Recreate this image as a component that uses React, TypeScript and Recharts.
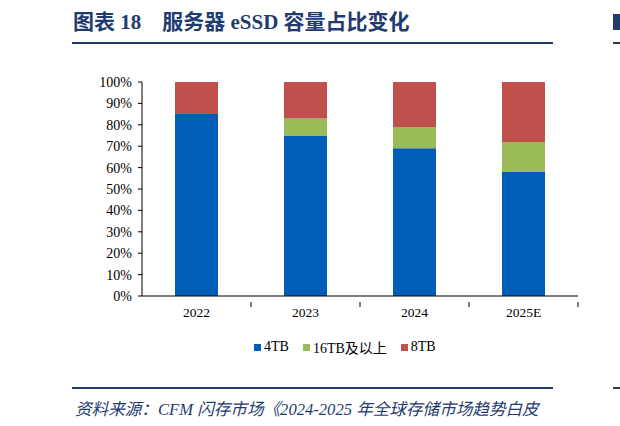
import { BarChart, Bar, XAxis, YAxis } from 'recharts'

const YEARS = ['2022', '2023', '2024', '2025E']
const SHARE_4TB = [85, 75, 69, 58]
const SHARE_16TB = [0, 8, 10, 14]
const SHARE_8TB = [15, 17, 21, 28]
const Y_TICKS = [0, 10, 20, 30, 40, 50, 60, 70, 80, 90, 100]

const SERIES = [
  { key: 'tb4', name: '4TB', color: '#005EB8' },
  { key: 'tb16', name: '16TB及以上', color: '#9BBB59' },
  { key: 'tb8', name: '8TB', color: '#C0504D' },
]

const data = YEARS.map((year, i) => ({
  year,
  tb4: SHARE_4TB[i],
  tb16: SHARE_16TB[i],
  tb8: SHARE_8TB[i],
}))

const NAVY = '#1F3B70'
const FONT = '"Times New Roman", "Liberation Serif", "Noto Sans CJK SC", serif'

const W = 620
const H = 426
const PLOT_LEFT = 142
const PLOT_RIGHT = 42
const BAND = (W - PLOT_LEFT - PLOT_RIGHT) / YEARS.length

// eslint-disable-next-line @typescript-eslint/no-explicit-any
function XTick(props: any) {
  const { x, y, payload } = props
  return (
    <g>
      <line x1={x + BAND / 2} y1={y - 2} x2={x + BAND / 2} y2={y + 3} stroke="#000" strokeWidth={1} />
      <text x={x} y={y + 13} textAnchor="middle" fontSize={13.5} fontFamily={FONT} fill="#000">
        {payload.value}
      </text>
    </g>
  )
}

export default function App() {
  return (
    <div style={{ position: 'fixed', left: 0, top: 0, width: W, height: H, background: '#fff', overflow: 'hidden' }}>
      <div
        style={{
          position: 'absolute',
          left: 73,
          top: 5,
          fontFamily: FONT,
          fontWeight: 'bold',
          fontSize: 21,
          color: NAVY,
          whiteSpace: 'nowrap',
        }}
      >
        图表 18<span style={{ display: 'inline-block', width: 21 }} />服务器 eSSD 容量占比变化
      </div>
      <div style={{ position: 'absolute', left: 613, top: 14, width: 10, height: 16, background: NAVY }} />
      <div style={{ position: 'absolute', left: 72, top: 42, width: 481, height: 2, background: NAVY }} />
      <div style={{ position: 'absolute', left: 613, top: 42, width: 10, height: 2, background: NAVY }} />

      <div style={{ position: 'absolute', left: 0, top: 0 }}>
        <BarChart
          width={W}
          height={H}
          data={data}
          margin={{ top: 82, right: PLOT_RIGHT, bottom: 100, left: 0 }}
          barSize={43}
        >
          <YAxis
            width={PLOT_LEFT}
            domain={[0, 100]}
            ticks={Y_TICKS}
            interval={0}
            tickFormatter={(v) => `${v}%`}
            tick={{ fontSize: 14, fontFamily: FONT, fill: '#000' }}
            tickSize={4}
            tickMargin={6}
            axisLine={{ stroke: '#000' }}
            tickLine={{ stroke: '#000' }}
          />
          <XAxis
            dataKey="year"
            height={30}
            tick={<XTick />}
            tickLine={false}
            axisLine={{ stroke: '#000' }}
            interval={0}
          />
          {SERIES.map((s) => (
            <Bar key={s.key} dataKey={s.key} name={s.name} stackId="a" fill={s.color} isAnimationActive={false} />
          ))}
        </BarChart>
      </div>

      <div
        style={{
          position: 'absolute',
          left: 254,
          top: 337,
          display: 'flex',
          alignItems: 'center',
          fontFamily: FONT,
          fontSize: 14,
          color: '#000',
          whiteSpace: 'nowrap',
        }}
      >
        {SERIES.map((s) => (
          <span key={s.key} style={{ display: 'inline-flex', alignItems: 'center', marginRight: 14 }}>
            <span style={{ display: 'inline-block', width: 7, height: 7, background: s.color, marginRight: 3 }} />
            {s.name}
          </span>
        ))}
      </div>

      <div style={{ position: 'absolute', left: 72, top: 387, width: 481, height: 2, background: NAVY }} />
      <div style={{ position: 'absolute', left: 613, top: 387, width: 10, height: 2, background: NAVY }} />
      <div
        style={{
          position: 'absolute',
          left: 75,
          top: 396,
          fontFamily: FONT,
          fontStyle: 'italic',
          fontSize: 16.6,
          color: NAVY,
          whiteSpace: 'nowrap',
        }}
      >
        资料来源：CFM 闪存市场《2024-2025 年全球存储市场趋势白皮
      </div>
    </div>
  )
}
